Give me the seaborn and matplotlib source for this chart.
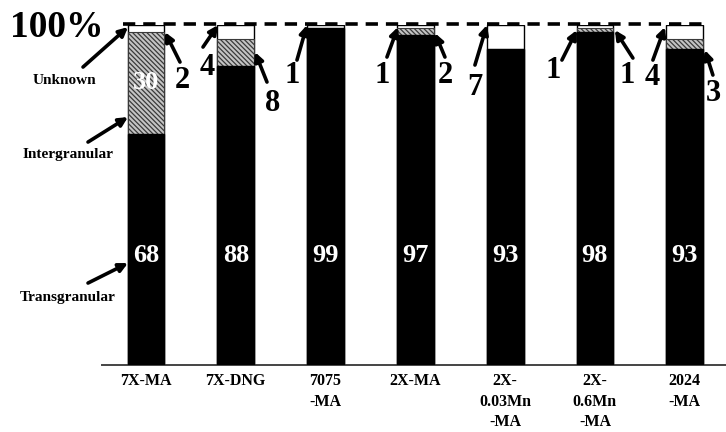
import numpy as np
import pandas as pd
import seaborn as sns
import matplotlib.pyplot as plt

# data (percent of fracture surface)
alloys = ['7X-MA', '7X-DNG', '7075\n-MA', '2X-MA', '2X-\n0.03Mn\n-MA', '2X-\n0.6Mn\n-MA', '2024\n-MA']
transgranular = [68, 88, 99, 97, 93, 98, 93]
intergranular = [30, 8, 0, 2, 0, 1, 3]
unknown = [2, 4, 1, 1, 7, 1, 4]

sns.set_style("white")
plt.rcParams['font.family'] = ['Liberation Serif', 'DejaVu Serif']
plt.rcParams['font.weight'] = 'bold'
plt.rcParams['text.color'] = 'black'
plt.rcParams['xtick.color'] = 'black'
plt.rcParams['hatch.linewidth'] = 0.9

df = pd.DataFrame({'alloy': alloys, 'trans': transgranular,
                   'inter': intergranular, 'unk': unknown})
df['top'] = df['trans'] + df['inter'] + df['unk']
df['mid'] = df['trans'] + df['inter']

fig = plt.figure(figsize=(7.26, 4.32), dpi=100)
ax = fig.add_axes([0.1405, 0.155, 0.8595, 0.787])

bw = 0.41
sns.barplot(data=df, x='alloy', y='top', color='white', edgecolor='black',
            linewidth=1, width=bw, saturation=1, ax=ax, zorder=2)
sns.barplot(data=df, x='alloy', y='mid', color='#c4c4c4', edgecolor='#3a3a3a',
            hatch='\\\\\\\\\\\\\\', linewidth=0.8, width=bw, saturation=1, ax=ax, zorder=3)
sns.barplot(data=df, x='alloy', y='trans', color='black', edgecolor='black',
            linewidth=1, width=bw, saturation=1, ax=ax, zorder=4)

ax.set_xlim(-0.49, 6.46)
ax.set_ylim(0, 100)
ax.set_xlabel('')
ax.set_ylabel('')
ax.set_yticks([])
ax.tick_params(axis='x', length=0, pad=6, labelcolor='black')
ax.set_xticks(range(len(alloys)))
ax.set_xticklabels(alloys, fontsize=11.5, fontweight='bold', linespacing=1.35)
for s in ['top', 'left', 'right']:
    ax.spines[s].set_visible(False)
ax.spines['bottom'].set_color('#444444')
ax.spines['bottom'].set_linewidth(1.4)


def px(x, y):
    # pixel position in the picture -> data coordinates
    return ((x - 146) / 89.8, (365 - y) / 3.4)


# 100% dashed line
x0, y0 = px(123, 24)
x1, _ = px(703, 24)
ax.plot([x0, x1], [y0, y0], color='black', lw=2.6, ls='--', dashes=(3.4, 2.2),
        clip_on=False, zorder=5)
ax.text(*px(57, 27), '100%', fontsize=27, fontweight='bold', ha='center',
        va='center', clip_on=False)

# white values inside the bars
for i, v in enumerate(transgranular):
    ax.text(i, (365 - 255) / 3.4, str(v), color='white', fontsize=19,
            fontweight='bold', ha='center', va='center', zorder=6)
ax.text(0, (365 - 82) / 3.4, str(intergranular[0]), color='white', fontsize=19,
        fontweight='bold', ha='center', va='center', zorder=6)

arrow = dict(arrowstyle='-|>', color='black', lw=2.6, mutation_scale=13,
             shrinkA=0, shrinkB=0)


def pointer(tail, head):
    ax.annotate('', xy=px(*head), xytext=px(*tail), arrowprops=arrow,
                annotation_clip=False, zorder=7)


# category labels on the left
ax.text(*px(64, 80), 'Unknown', fontsize=11, ha='center', va='center')
pointer((83, 67), (128, 27))
ax.text(*px(68, 154), 'Intergranular', fontsize=11, ha='center', va='center')
pointer((88, 142), (128, 117))
ax.text(*px(68, 297), 'Transgranular', fontsize=11, ha='center', va='center')
pointer((88, 283), (128, 263))

# small-value call-outs: (value, text pos, arrow tail, arrow head)
callouts = [
    (unknown[0], (182, 80), (180, 62), (165, 32)),
    (unknown[1], (207, 67), (203, 47), (218, 25)),
    (intergranular[1], (273, 103), (267, 82), (255, 52)),
    (unknown[2], (292, 75), (297, 60), (307, 25)),
    (unknown[3], (382, 75), (387, 57), (398, 27)),
    (intergranular[3], (445, 75), (445, 57), (435, 33)),
    (unknown[4], (475, 87), (475, 65), (487, 25)),
    (unknown[5], (553, 70), (562, 60), (577, 30)),
    (intergranular[5], (627, 75), (633, 58), (615, 30)),
    (unknown[6], (652, 77), (653, 60), (665, 27)),
    (intergranular[6], (713, 93), (713, 75), (705, 50)),
]
for val, tpos, tail, head in callouts:
    ax.text(*px(*tpos), str(val), fontsize=22, fontweight='bold',
            ha='center', va='center', clip_on=False)
    pointer(tail, head)

plt.savefig('out.png', dpi=100)
